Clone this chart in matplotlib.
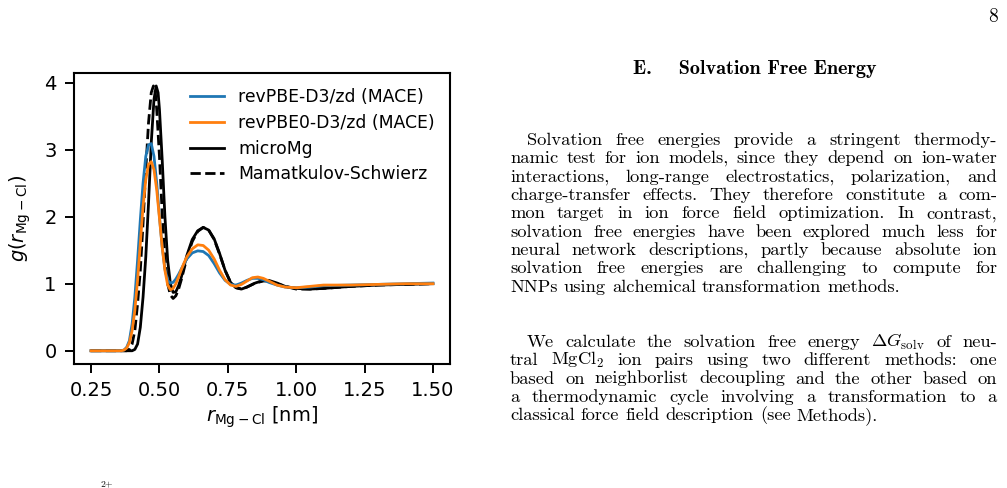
import matplotlib
matplotlib.use("Agg")
import matplotlib.pyplot as plt
from matplotlib.lines import Line2D

# ---------------- data ----------------
r_revpbe = [0.25, 0.36, 0.37, 0.38, 0.39, 0.40, 0.41, 0.42, 0.43, 0.44, 0.45, 0.46, 0.47, 0.48, 0.49,
            0.50, 0.51, 0.52, 0.53, 0.54, 0.55, 0.56, 0.57, 0.58, 0.59, 0.60, 0.62, 0.64, 0.66, 0.68,
            0.70, 0.72, 0.74, 0.76, 0.78, 0.80, 0.82, 0.84, 0.86, 0.88, 0.90, 0.93, 0.96, 1.00, 1.05,
            1.10, 1.20, 1.30, 1.40, 1.50]
g_revpbe = [0.00, 0.00, 0.01, 0.05, 0.15, 0.40, 0.80, 1.35, 1.95, 2.50, 2.90, 3.07, 3.09, 2.90, 2.50,
            2.00, 1.55, 1.22, 1.05, 1.01, 1.02, 1.07, 1.14, 1.22, 1.30, 1.37, 1.46, 1.49, 1.48, 1.42,
            1.30, 1.16, 1.05, 0.99, 0.98, 1.01, 1.05, 1.08, 1.08, 1.06, 1.02, 0.98, 0.95, 0.94, 0.95,
            0.97, 0.98, 0.99, 1.00, 1.01]

r_revpbe0 = [0.25, 0.36, 0.37, 0.38, 0.39, 0.40, 0.41, 0.42, 0.43, 0.44, 0.45, 0.46, 0.47, 0.48, 0.49,
             0.50, 0.51, 0.52, 0.53, 0.54, 0.55, 0.56, 0.57, 0.58, 0.59, 0.60, 0.62, 0.64, 0.66, 0.68,
             0.70, 0.72, 0.74, 0.76, 0.78, 0.80, 0.82, 0.84, 0.86, 0.88, 0.90, 0.93, 0.96, 1.00, 1.05,
             1.10, 1.20, 1.30, 1.40, 1.50]
g_revpbe0 = [0.00, 0.00, 0.01, 0.04, 0.12, 0.30, 0.60, 1.05, 1.60, 2.15, 2.55, 2.78, 2.82, 2.70, 2.40,
             1.98, 1.55, 1.20, 0.98, 0.91, 0.93, 1.00, 1.10, 1.21, 1.31, 1.40, 1.52, 1.58, 1.57, 1.50,
             1.37, 1.20, 1.06, 0.98, 0.96, 0.99, 1.04, 1.09, 1.10, 1.08, 1.04, 0.98, 0.95, 0.94, 0.96,
             0.98, 0.98, 0.99, 1.00, 1.00]

r_micromg = [0.25, 0.40, 0.41, 0.42, 0.43, 0.44, 0.45, 0.46, 0.47, 0.48, 0.488, 0.495, 0.50, 0.51, 0.52,
             0.53, 0.54, 0.55, 0.56, 0.57, 0.58, 0.59, 0.60, 0.62, 0.64, 0.66, 0.68, 0.70, 0.72, 0.74,
             0.76, 0.78, 0.80, 0.82, 0.85, 0.88, 0.90, 0.93, 0.96, 1.00, 1.05, 1.10, 1.20, 1.30, 1.40, 1.50]
g_micromg = [0.00, 0.00, 0.02, 0.10, 0.35, 0.80, 1.40, 2.20, 3.10, 3.75, 3.95, 3.85, 3.60, 2.85, 2.00,
             1.35, 1.00, 0.87, 0.88, 0.97, 1.10, 1.26, 1.42, 1.66, 1.79, 1.84, 1.80, 1.67, 1.45, 1.20,
             1.02, 0.94, 0.92, 0.95, 1.01, 1.05, 1.05, 1.01, 0.96, 0.93, 0.92, 0.93, 0.96, 0.98, 0.99, 1.00]

r_ms = [0.25, 0.38, 0.39, 0.40, 0.41, 0.42, 0.43, 0.44, 0.45, 0.46, 0.47, 0.478, 0.485, 0.49, 0.50,
        0.51, 0.52, 0.53, 0.54, 0.55, 0.56, 0.57, 0.58, 0.59, 0.60, 0.62, 0.64, 0.66, 0.68, 0.70,
        0.72, 0.74, 0.76, 0.78, 0.80, 0.82, 0.85, 0.88, 0.90, 0.93, 0.96, 1.00, 1.05, 1.10, 1.20,
        1.30, 1.40, 1.50]
g_ms = [0.00, 0.00, 0.02, 0.10, 0.30, 0.70, 1.20, 1.90, 2.70, 3.40, 3.85, 3.95, 3.85, 3.60, 2.90,
        2.05, 1.40, 1.00, 0.83, 0.78, 0.82, 0.92, 1.06, 1.22, 1.38, 1.63, 1.78, 1.84, 1.80, 1.66,
        1.44, 1.20, 1.02, 0.94, 0.92, 0.95, 1.01, 1.04, 1.04, 1.00, 0.96, 0.92, 0.92, 0.93, 0.96,
        0.98, 0.99, 1.00]

series_labels = ["revPBE-D3/zd (MACE)", "revPBE0-D3/zd (MACE)", "microMg", "Mamatkulov-Schwierz"]
xticks = [0.25, 0.50, 0.75, 1.00, 1.25, 1.50]
yticks = [0, 1, 2, 3, 4]

heading = "E.    Solvation Free Energy"
para1 = [
    "Solvation free energies provide a stringent thermody-",
    "namic test for ion models, since they depend on ion-water",
    "interactions, long-range electrostatics, polarization, and",
    "charge-transfer effects. They therefore constitute a com-",
    "mon target in ion force field optimization. In contrast,",
    "solvation free energies have been explored much less for",
    "neural network descriptions, partly because absolute ion",
    "solvation free energies are challenging to compute for",
    "NNPs using alchemical transformation methods.",
]
para2 = [
    r"We calculate the solvation free energy $\Delta{G}_\mathrm{solv}$ of neu-",
    r"tral MgCl$_2$ ion pairs using two different methods: one",
    "based on neighborlist decoupling and the other based on",
    "a thermodynamic cycle involving a transformation to a",
    "classical force field description (see Methods).",
]

# ---------------- figure ----------------
W, H = 1007, 488
plt.rcParams.update({
    "font.family": "DejaVu Sans",
    "mathtext.fontset": "dejavusans",
    "axes.linewidth": 1.5,
    "xtick.major.size": 6.5, "ytick.major.size": 6.5,
    "xtick.major.width": 1.4, "ytick.major.width": 1.4,
    "xtick.major.pad": 6.0, "ytick.major.pad": 6.0,
})
fig = plt.figure(figsize=(W / 100, H / 100), dpi=100)
fig.patch.set_facecolor("white")


def px(x, y):
    return x / W, 1 - y / H


l, t, rgt, b = 74, 72.7, 450, 364
ax = fig.add_axes([l / W, 1 - b / H, (rgt - l) / W, (b - t) / H])

lw = 2.0
ax.plot(r_micromg, g_micromg, color="black", lw=lw, zorder=2)
ax.plot(r_ms, g_ms, color="black", lw=lw, ls="--", zorder=2.1)
ax.plot(r_revpbe, g_revpbe, color="#1f77b4", lw=lw, zorder=2.2)
ax.plot(r_revpbe0, g_revpbe0, color="#ff7f0e", lw=lw, zorder=2.3)

ax.set_xticks(xticks)
ax.set_yticks(yticks)
ax.tick_params(labelsize=14)
ax.set_xlabel(r"$r_{\rm Mg-Cl}$ [nm]", fontsize=14, labelpad=3)
ax.set_ylabel(r"$g(r_{\rm Mg-Cl})$", fontsize=14)
ax.yaxis.set_label_coords(-0.11, 0.5)

handles = [Line2D([], [], color="#1f77b4", lw=lw),
           Line2D([], [], color="#ff7f0e", lw=lw),
           Line2D([], [], color="black", lw=lw),
           Line2D([], [], color="black", lw=lw, ls="--")]
ax.legend(handles, series_labels, loc="upper right", frameon=False, fontsize=12.4,
          labelspacing=0.45)

# ---------------- page text ----------------
fig.text(*px(998, 22), "8", family="cmr10", fontsize=14, ha="right", va="baseline")
fig.text(*px(755, 74), heading, family="cmb10", fontsize=14.5, ha="center", va="baseline")

renderer = fig.canvas.get_renderer()
BODY = 13.3


def put_line(line, x0, x1, y, justify):
    words = line.split(" ")
    objs = []
    for w in words:
        objs.append(fig.text(0, 0, w, family="cmr10", fontsize=BODY, math_fontfamily="cm",
                             ha="left", va="baseline"))
    widths = [o.get_window_extent(renderer).width for o in objs]
    if justify and len(words) > 1:
        gap = (x1 - x0 - sum(widths)) / (len(words) - 1)
    else:
        gap = BODY * 100 / 72 * 0.333
    x = x0
    for o, wdt in zip(objs, widths):
        o.set_position(px(x, y))
        x += wdt + gap


LEFT, RIGHT, INDENT, LS = 510, 997, 17, 18.35
y0 = 145
for i, line in enumerate(para1):
    put_line(line, LEFT + (INDENT if i == 0 else 0), RIGHT, y0 + i * LS, i < len(para1) - 1)
y1 = y0 + (len(para1) - 1) * LS + 55
for i, line in enumerate(para2):
    put_line(line, LEFT + (INDENT if i == 0 else 0), RIGHT, y1 + i * LS, i < len(para2) - 1)

fig.text(*px(100, 486), r"2+", family="cmr10", fontsize=7, ha="left", va="baseline")

fig.savefig("out.png", dpi=100)
